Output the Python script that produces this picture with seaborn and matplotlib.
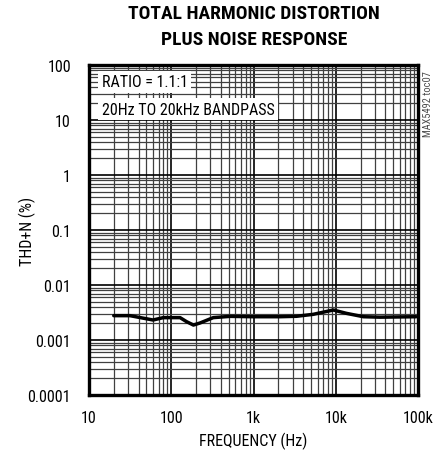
import numpy as np
import pandas as pd
import matplotlib
matplotlib.use("Agg")
import matplotlib.pyplot as plt
import seaborn as sns
from matplotlib.ticker import FixedLocator, LogLocator, NullFormatter

# values
freq_hz = [20, 31.5, 60, 80, 128, 154, 186, 224, 324, 517, 994, 2090,
           3340, 5330, 9340, 13500, 21700, 34600, 95000]
thd_pct = [0.00277, 0.00277, 0.00231, 0.00255, 0.00255, 0.00215, 0.00187,
           0.00204, 0.00255, 0.00269, 0.00265, 0.00265, 0.0027, 0.00293,
           0.00351, 0.00305, 0.00265, 0.0026, 0.00265]

x_ticks = [10, 100, 1000, 10000, 100000]
x_labels = ['10', '100', '1k', '10k', '100k']
y_ticks = [0.0001, 0.001, 0.01, 0.1, 1, 10, 100]
y_labels = ['0.0001', '0.001', '0.01', '0.1', '1', '10', '100']


def main():
    sns.set_style('white')
    plt.rcParams['font.family'] = ['Roboto Condensed', 'Liberation Sans Narrow',
                                   'Roboto', 'DejaVu Sans']
    plt.rcParams['text.color'] = 'black'
    plt.rcParams['axes.labelcolor'] = 'black'
    plt.rcParams['xtick.color'] = 'black'
    plt.rcParams['ytick.color'] = 'black'

    df = pd.DataFrame({'freq': freq_hz, 'thd': thd_pct})

    fig = plt.figure(figsize=(4.43, 4.56), dpi=100)
    ax = fig.add_axes([89 / 443, 60 / 456, 329 / 443, 330 / 456])

    sns.lineplot(data=df, x='freq', y='thd', ax=ax, color='black', linewidth=2.5)

    ax.set_xscale('log')
    ax.set_yscale('log')
    ax.set_xlim(10, 100000)
    ax.set_ylim(0.0001, 100)

    ax.xaxis.set_major_locator(FixedLocator(x_ticks))
    ax.set_xticklabels(x_labels)
    ax.yaxis.set_major_locator(FixedLocator(y_ticks))
    ax.set_yticklabels(y_labels)
    ax.xaxis.set_minor_locator(LogLocator(base=10, subs=np.arange(2, 10)))
    ax.yaxis.set_minor_locator(LogLocator(base=10, subs=np.arange(2, 10)))
    ax.xaxis.set_minor_formatter(NullFormatter())
    ax.yaxis.set_minor_formatter(NullFormatter())

    ax.grid(True, which='major', color='black', linewidth=1.2)
    ax.grid(True, which='minor', color='0.25', linewidth=0.9)
    ax.tick_params(which='both', length=0, labelsize=11.5)
    ax.tick_params(axis='y', pad=13)
    ax.tick_params(axis='x', pad=11)

    for sp in ax.spines.values():
        sp.set_visible(True)
        sp.set_color('black')
        sp.set_linewidth(2.4)

    ax.set_xlabel('FREQUENCY (Hz)', fontsize=11.5, va='center')
    ax.set_ylabel('THD+N (%)', fontsize=11.5, va='center')
    ax.xaxis.set_label_coords(0.5, -45 / 330)
    ax.yaxis.set_label_coords(-62 / 329, 0.5)

    # note box
    ax.text(0.038, 0.949, 'RATIO = 1.1:1', transform=ax.transAxes, fontsize=11.5,
            va='center', ha='left',
            bbox=dict(facecolor='white', edgecolor='none', pad=2.5), zorder=5)
    ax.text(0.038, 0.866, '20Hz TO 20kHz BANDPASS', transform=ax.transAxes, fontsize=11.5,
            va='center', ha='left',
            bbox=dict(facecolor='white', edgecolor='none', pad=2.5), zorder=5)

    fig.text(254 / 443, 1 - 14 / 456, 'TOTAL HARMONIC DISTORTION', ha='center', va='center',
             fontsize=14, fontweight='heavy')
    fig.text(254 / 443, 1 - 40 / 456, 'PLUS NOISE RESPONSE', ha='center', va='center',
             fontsize=14, fontweight='heavy')
    fig.text(428 / 443, 1 - 104 / 456, 'MAX5492 toc07', rotation=90, ha='center', va='center',
             fontsize=7.5, color='0.3')

    fig.savefig('out.png', dpi=100)
    plt.close(fig)


if __name__ == "__main__":
    main()
